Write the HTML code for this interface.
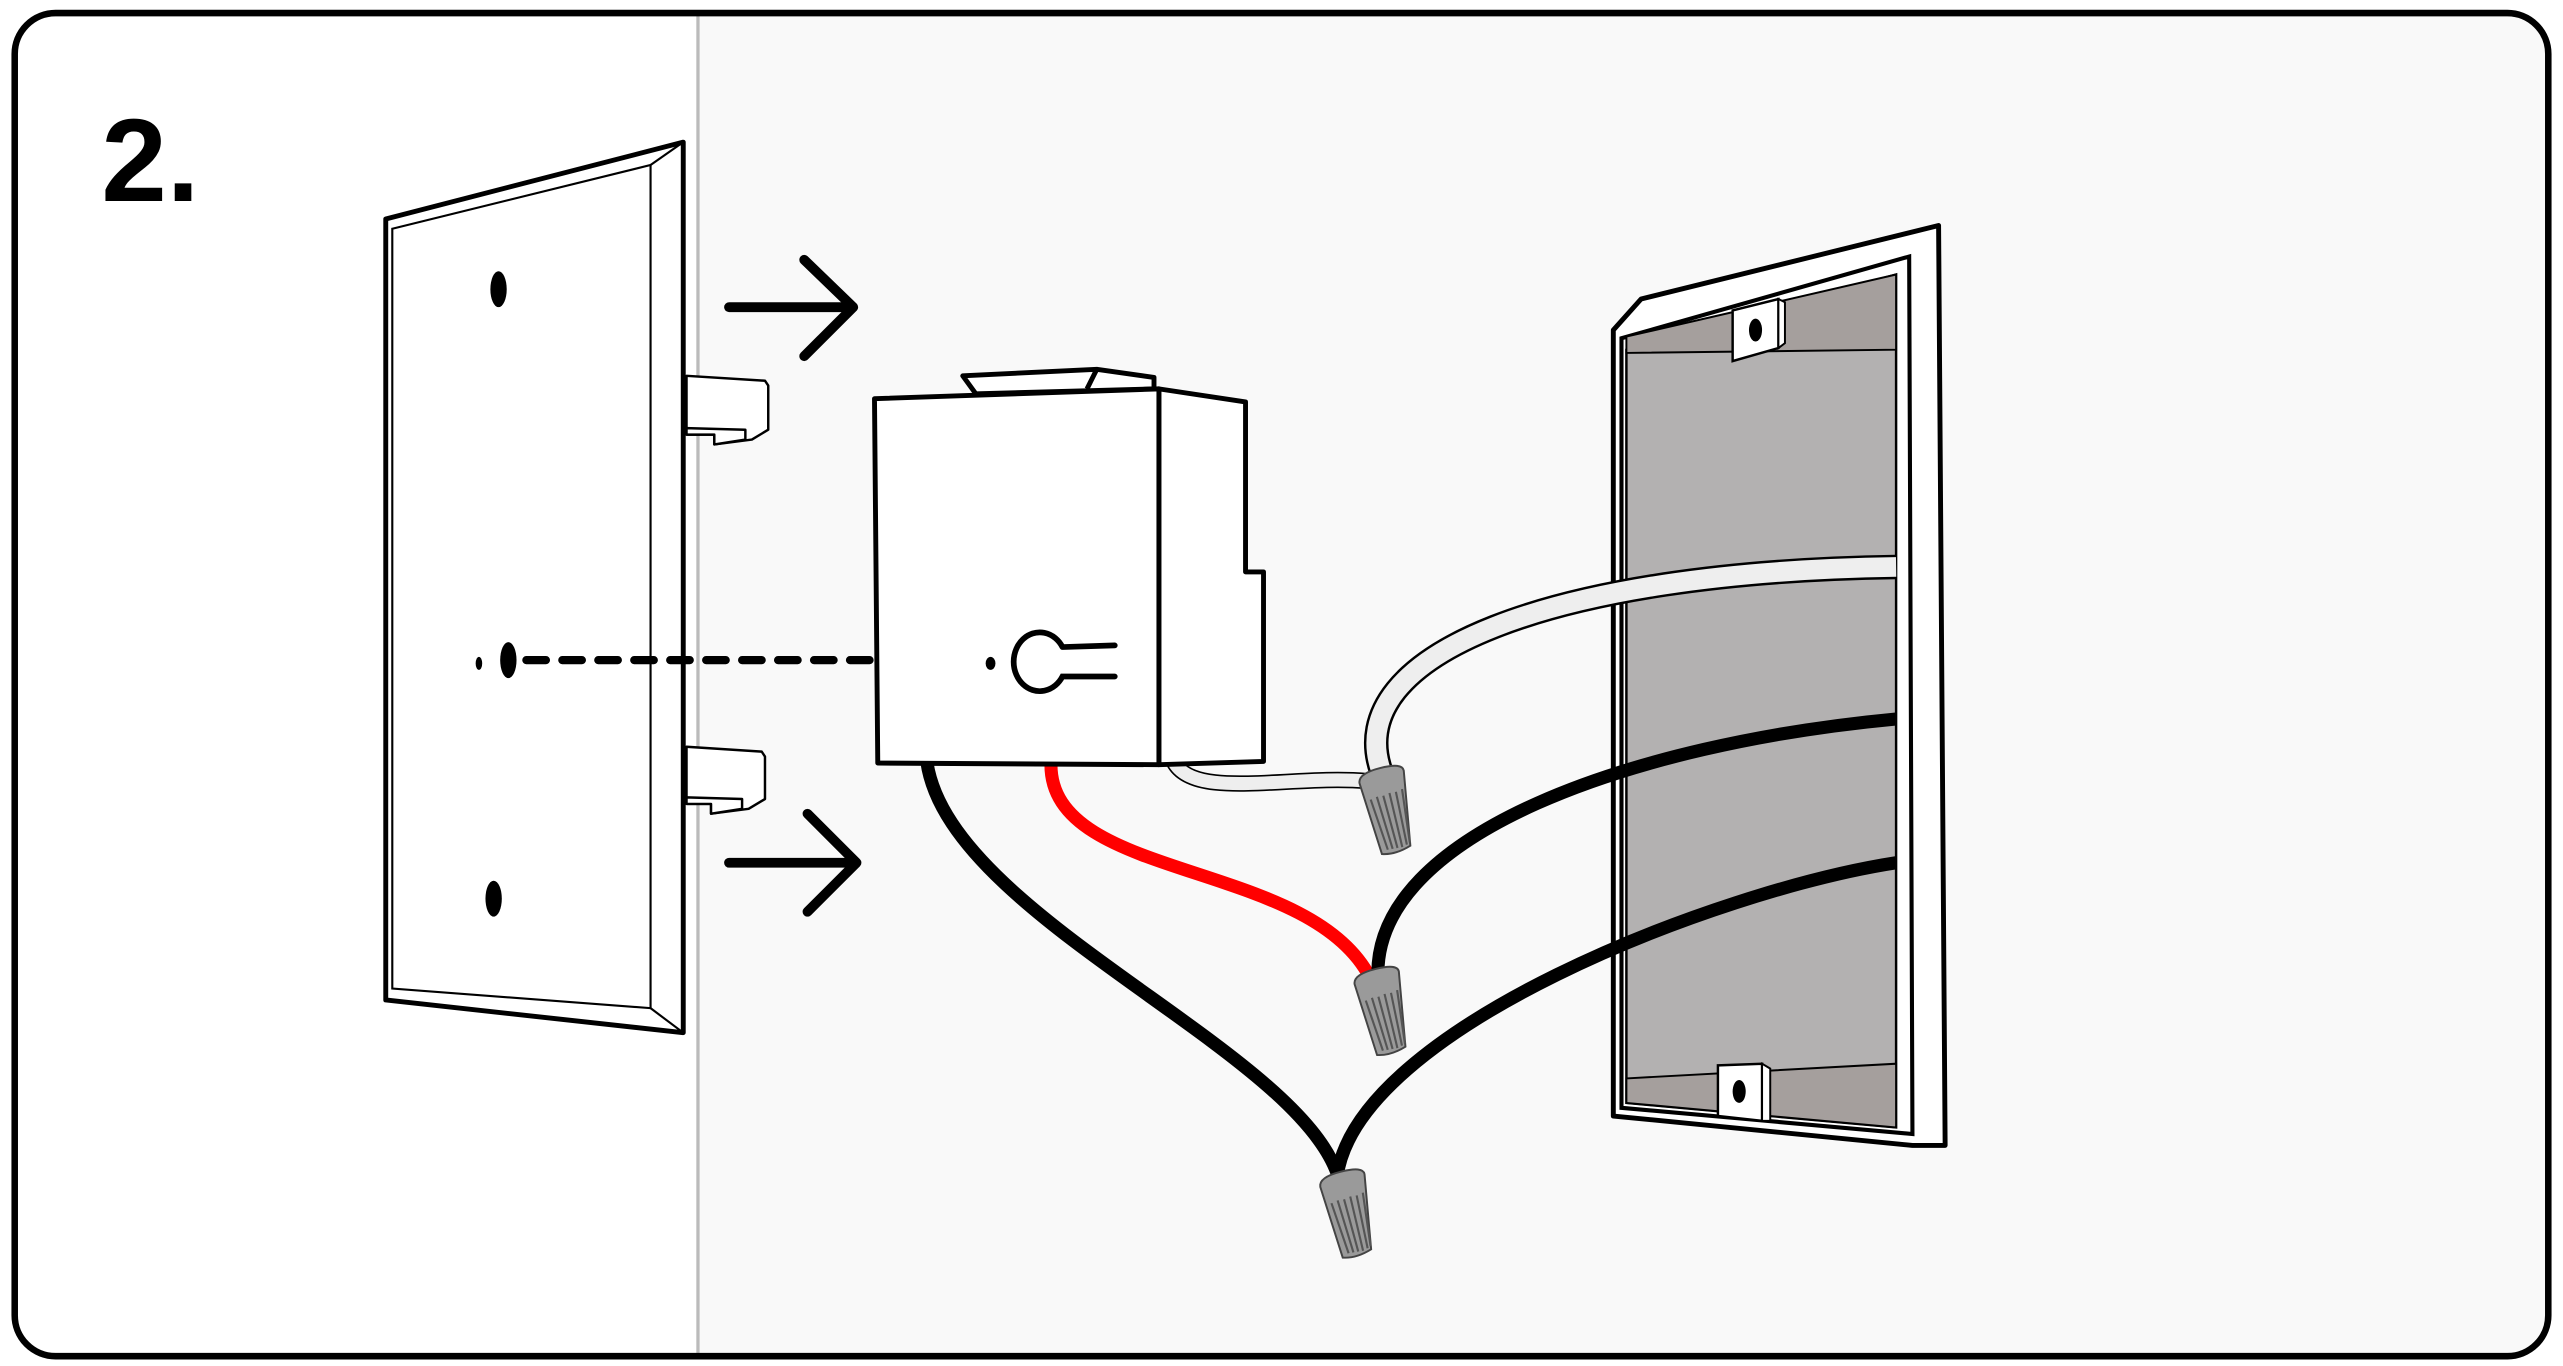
<!DOCTYPE html>
<html><head><meta charset="utf-8"><style>
html,body{margin:0;padding:0;background:#fff;}
svg{display:block;}
</style></head><body>
<svg width="2563" height="1366" viewBox="0 0 1568 836" preserveAspectRatio="none" xmlns="http://www.w3.org/2000/svg">
<defs>
<g id="nut">
  <path d="M-14,3 Q-14,-3 0,-4 Q14,-5 14,0 L10,46 Q0,50 -8,48 Z" fill="#9a9a9a" stroke="#444" stroke-width="1.2"/>
  <g stroke="#555" stroke-width="1.3">
    <line x1="-9" y1="14" x2="-4" y2="46"/><line x1="-5" y1="13" x2="-1" y2="46"/>
    <line x1="-1" y1="13" x2="2" y2="46"/><line x1="3" y1="12" x2="5" y2="46"/>
    <line x1="7" y1="12" x2="8" y2="45"/><line x1="11" y1="11" x2="10" y2="44"/>
  </g>
</g>
</defs>
<rect x="0" y="0" width="1568" height="836" fill="#fff"/>
<path d="M427,9 L1534,9 Q1559,9 1559,34 L1559,805 Q1559,830 1534,830 L427,830 Z" fill="#f9f9f9"/>
<line x1="427" y1="9" x2="427" y2="830" stroke="#bbb" stroke-width="2"/>
<rect x="9" y="8" width="1550" height="822" rx="25" fill="none" stroke="#000" stroke-width="4"/>
<text x="62" y="123" font-family="Liberation Sans, sans-serif" font-weight="bold" font-size="72">2.</text>

<!-- wall plate -->
<polygon points="236,134 418,87 418,632 236,612" fill="#fff" stroke="#000" stroke-width="3" stroke-linejoin="round"/>
<polygon points="240,140 398,101 398,617 240,605" fill="none" stroke="#000" stroke-width="1.3"/>
<line x1="398" y1="101" x2="418" y2="87" stroke="#000" stroke-width="1.3"/>
<line x1="398" y1="617" x2="418" y2="632" stroke="#000" stroke-width="1.3"/>
<ellipse cx="305" cy="177" rx="5" ry="11"/>
<ellipse cx="302" cy="550" rx="5" ry="11"/>
<ellipse cx="311" cy="404" rx="5" ry="11"/>
<ellipse cx="293" cy="406" rx="2" ry="4"/>
<line x1="322" y1="404" x2="533" y2="404" stroke="#000" stroke-width="5" stroke-dasharray="12,10" stroke-linecap="round"/>

<!-- tabs -->
<g fill="#fff" stroke="#000" stroke-width="1.5" stroke-linejoin="round">
<polygon points="420,230 468,233 470,236 470,263 460,269 437,272 437,266 420,266"/>
<polygon points="420,262 456,263 456,269 437,272 437,266 420,266"/>
<polygon points="420,457 466,460 468,463 468,489 458,495 435,498 435,492 420,492"/>
<polygon points="420,488 454,489 454,495 435,498 435,492 420,492"/>
</g>

<!-- arrows -->
<g stroke="#000" stroke-width="6" stroke-linecap="round" stroke-linejoin="round" fill="none">
<line x1="446" y1="188" x2="520" y2="188"/><polyline points="492,159 522,188 492,218"/>
<line x1="446" y1="528" x2="520" y2="528"/><polyline points="494,498 524,528 494,558"/>
</g>

<!-- box -->
<polygon points="987,202 1004,183 1186,138 1190,701 1170,701 987,683" fill="#fff" stroke="#000" stroke-width="3" stroke-linejoin="round"/>
<polygon points="992,207 1168,157 1170,694 992,678" fill="#fff" stroke="#000" stroke-width="2.5"/>
<polygon points="995,214 1160,168 1160,690 995,675" fill="#b3b1b1" stroke="#000" stroke-width="1.5"/>
<polygon points="995,206 1160,168 1160,214 995,216" fill="#a59f9d" stroke="#000" stroke-width="1.2"/>
<polygon points="995,660 1160,651 1160,690 995,675" fill="#a59f9d" stroke="#000" stroke-width="1.2"/>
<polygon points="1060,190 1088,183 1088,213 1060,221" fill="#fff" stroke="#000" stroke-width="1.5"/>
<polygon points="1088,183 1092,185 1092,210 1088,213" fill="#fff" stroke="#000" stroke-width="1.2"/>
<ellipse cx="1074" cy="202" rx="4" ry="7"/>
<polygon points="1051,652 1078,651 1078,686 1051,683" fill="#fff" stroke="#000" stroke-width="1.5"/>
<polygon points="1078,651 1083,654 1083,686 1078,686" fill="#fff" stroke="#000" stroke-width="1.2"/>
<ellipse cx="1064" cy="668" rx="4" ry="7"/>

<!-- wires -->
<path d="M567,466 C580,560 790,640 818,718" fill="none" stroke="#000" stroke-width="8"/>
<path d="M643,466 C640,540 800,525 838,598" fill="none" stroke="#f00" stroke-width="8"/>
<path d="M1160,440 C1000,455 840,510 843,598" fill="none" stroke="#000" stroke-width="8"/>
<path d="M1160,528 C1050,545 830,630 818,720" fill="none" stroke="#000" stroke-width="8"/>
<path d="M1160,347 C950,350 820,400 845,472" fill="none" stroke="#000" stroke-width="15"/>
<path d="M1160,347 C950,350 820,400 845,472" fill="none" stroke="#eee" stroke-width="12"/>
<path d="M718,466 C730,490 790,474 836,478" fill="none" stroke="#000" stroke-width="10"/>
<path d="M718,466 C730,490 790,474 836,478" fill="none" stroke="#eee" stroke-width="8"/>

<!-- device -->
<g fill="#fff" stroke="#000" stroke-width="3" stroke-linejoin="round">
<polygon points="589,230 671,226 706,231 706,238 597,241"/>
<line x1="665" y1="238" x2="671" y2="226"/>
<polygon points="709,238 762,246 762,350 773,350 773,466 709,468"/>
<polygon points="535,244 709,238 709,468 537,467"/>
</g>
<path d="M650,396 A16,18 0 1 0 650,414 L682,414 M650,396 L682,395" fill="none" stroke="#000" stroke-width="3.5" stroke-linecap="round"/>
<ellipse cx="606" cy="406" rx="3" ry="4"/>

<!-- nuts -->
<use href="#nut" transform="translate(845,474) rotate(-10)"/>
<use href="#nut" transform="translate(842,597) rotate(-10)"/>
<use href="#nut" transform="translate(821,721) rotate(-10)"/>
</svg>
</body></html>
